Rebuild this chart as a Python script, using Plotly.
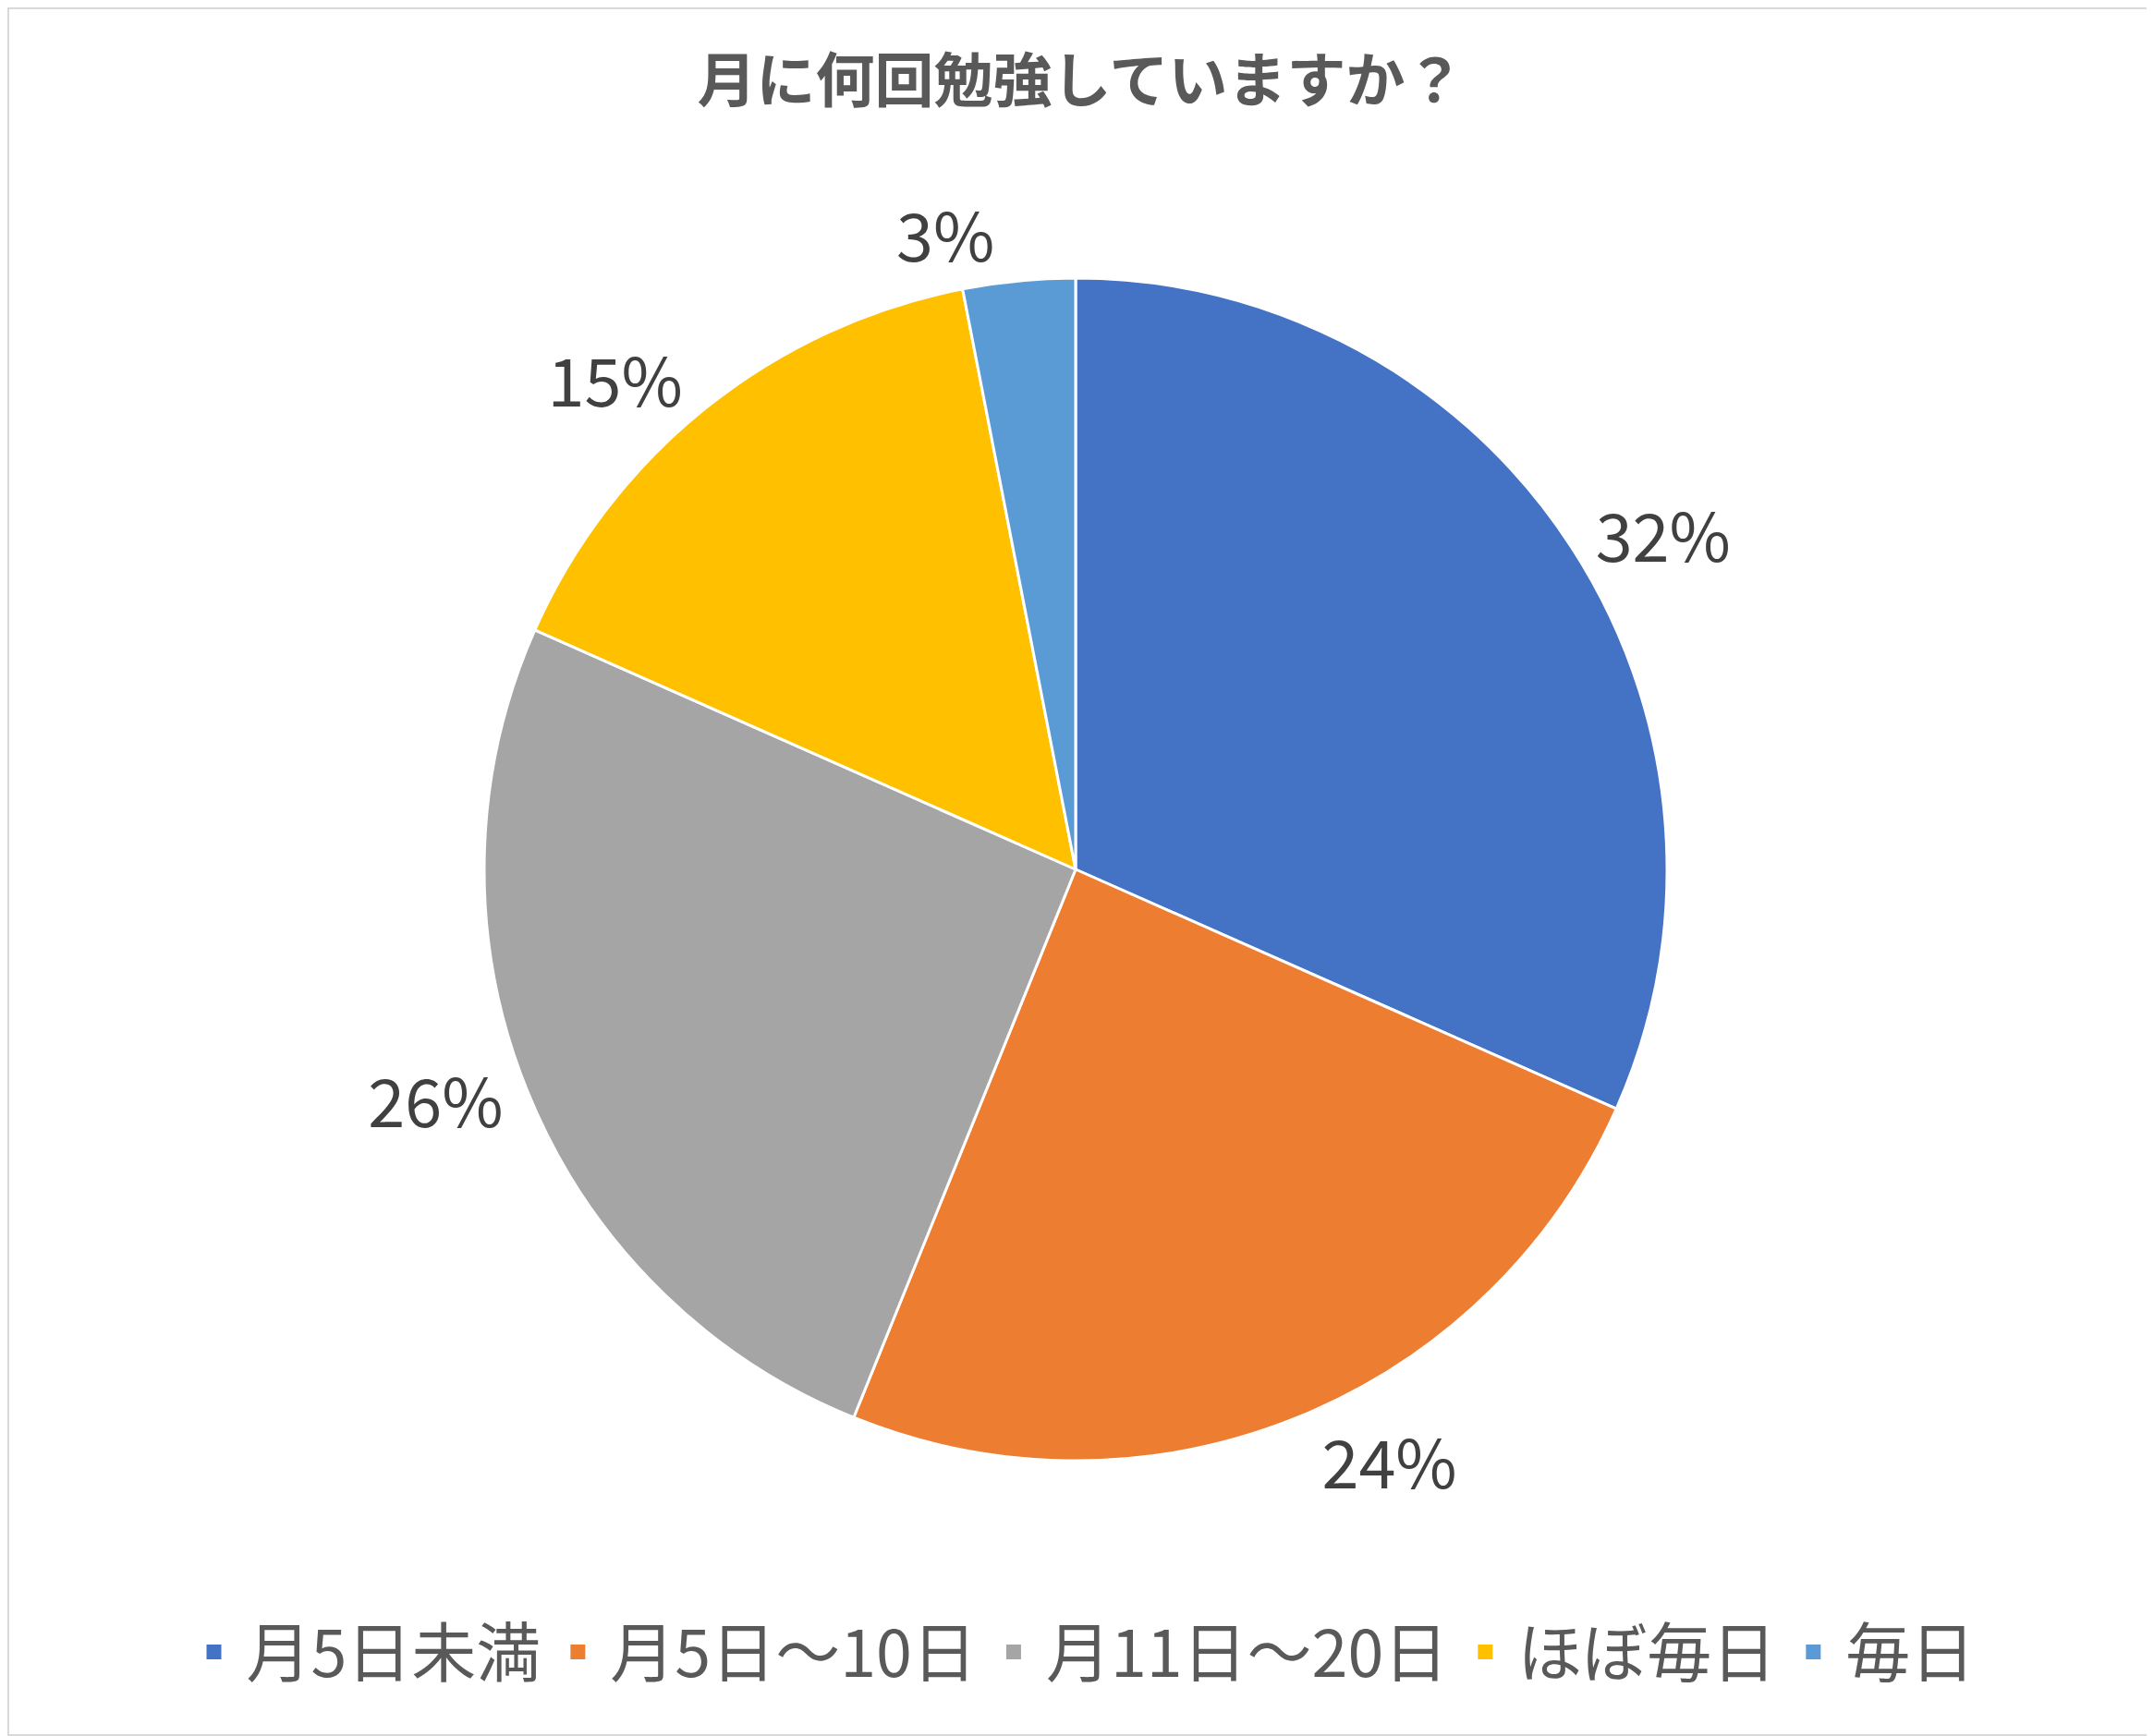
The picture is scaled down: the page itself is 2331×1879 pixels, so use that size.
import plotly.graph_objects as go

# 回答数（n=98）
labels = ['月5日未満', '月5日～10日', '月11日～20日', 'ほぼ毎日', '毎日']
counts = [31, 24, 25, 15, 3]
colors = ['#4472C4', '#ED7D31', '#A5A5A5', '#FFC000', '#5B9BD5']

title_text = '月に何回勉強していますか？'

# ページの余白(8px)を除いた大きさ
W, H = 2323, 1871
left, right, top, bottom = 0, 11, 293, 298

fig = go.Figure(go.Pie(
    labels=labels,
    values=counts,
    sort=False,
    direction='clockwise',
    rotation=0,
    marker={'colors': colors, 'line': {'color': 'white', 'width': 3}},
    textposition='outside',
    texttemplate='%{percent:.0%}',
    textfont={'size': 72, 'color': '#404040'},
    hoverinfo='label+value+percent',
    showlegend=False))

# 凡例用（四角マーカーを大きく見せるため）
for name, c in zip(labels, colors):
    fig.add_trace(go.Scatter(
        x=[None], y=[None], mode='markers', name=name,
        marker={'symbol': 'square', 'size': 16, 'color': c},
        hoverinfo='skip'))

fig.update_layout(
    width=W, height=H,
    margin={'l': left, 'r': right, 't': top, 'b': bottom, 'autoexpand': False},
    paper_bgcolor='white',
    plot_bgcolor='white',
    font={'family': 'Noto Sans CJK JP', 'color': '#595959'},
    title={'text': '<b>' + title_text + '</b>',
           'x': 0.5, 'xanchor': 'center',
           'y': 1 - 80 / H, 'yanchor': 'middle',
           'font': {'size': 64, 'color': '#595959'}},
    legend={'orientation': 'h', 'xref': 'container', 'yref': 'container',
            'x': 0.5, 'xanchor': 'center',
            'y': 1 - 1780 / H, 'yanchor': 'middle',
            'font': {'size': 70, 'color': '#595959'},
            'itemwidth': 60,
            'traceorder': 'normal'},
    xaxis={'visible': False},
    yaxis={'visible': False},
    showlegend=True)

# 外枠
pw = W - left - right
ph = H - top - bottom
fig.add_shape(type='rect', xref='paper', yref='paper',
              x0=(1 - left) / pw, x1=(W - left - 1) / pw,
              y0=-(bottom - 1) / ph, y1=1 + (top - 1) / ph,
              line={'color': '#D9D9D9', 'width': 2})

fig.write_html('out.html')
